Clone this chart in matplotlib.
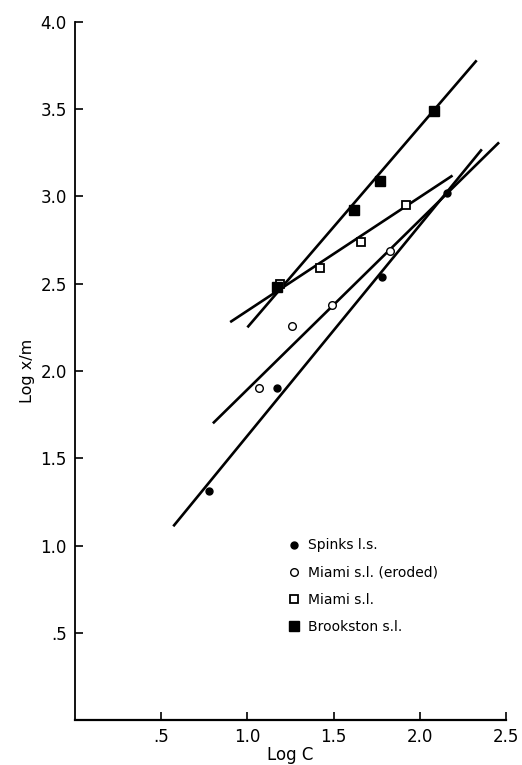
import matplotlib
matplotlib.use('Agg')
import matplotlib.pyplot as plt

# Puntos (Log C, Log x/m)
spinks_x = [0.78, 1.17, 1.78, 2.16]
spinks_y = [1.31, 1.90, 2.54, 3.02]

miami_er_x = [1.07, 1.26, 1.49, 1.83]
miami_er_y = [1.90, 2.26, 2.38, 2.69]

miami_x = [1.19, 1.42, 1.66, 1.92]
miami_y = [2.50, 2.59, 2.74, 2.95]

brook_x = [1.17, 1.62, 1.77, 2.08]
brook_y = [2.48, 2.92, 3.09, 3.49]

# Rectas ajustadas (extremos)
spinks_line_x = [0.57, 2.36]
spinks_line_y = [1.11, 3.27]
miami_er_line_x = [0.80, 2.46]
miami_er_line_y = [1.70, 3.31]
miami_line_x = [0.90, 2.19]
miami_line_y = [2.28, 3.12]
brook_line_x = [1.00, 2.33]
brook_line_y = [2.25, 3.78]

x_ticks = [0.5, 1.0, 1.5, 2.0, 2.5]
x_labels = ['.5', '1.0', '1.5', '2.0', '2.5']
y_ticks = [0.5, 1.0, 1.5, 2.0, 2.5, 3.0, 3.5, 4.0]
y_labels = ['.5', '1.0', '1.5', '2.0', '2.5', '3.0', '3.5', '4.0']

fig = plt.figure(figsize=(5.22, 7.65), dpi=100)
ax = fig.add_axes([0.1437, 0.0588, 0.8256, 0.9125])

for lx, ly in [(spinks_line_x, spinks_line_y), (miami_er_line_x, miami_er_line_y),
               (miami_line_x, miami_line_y), (brook_line_x, brook_line_y)]:
    ax.plot(lx, ly, color='black', lw=1.9, solid_capstyle='butt', zorder=2)

ax.plot(spinks_x, spinks_y, 'o', color='black', ms=5, ls='none', zorder=3, label='Spinks l.s.')
ax.plot(miami_er_x, miami_er_y, 'o', mfc='white', mec='black', mew=1.0, ms=5.5, ls='none',
        zorder=3, label='Miami s.l. (eroded)')
ax.plot(miami_x, miami_y, 's', mfc='white', mec='black', mew=1.3, ms=6, ls='none',
        zorder=3, label='Miami s.l.')
ax.plot(brook_x, brook_y, 's', color='black', ms=6.5, ls='none', zorder=3, label='Brookston s.l.')

ax.set_xlim(0, 2.5)
ax.set_ylim(0, 4.0)
ax.set_xticks(x_ticks)
ax.set_xticklabels(x_labels)
ax.set_yticks(y_ticks)
ax.set_yticklabels(y_labels)
ax.tick_params(direction='in', length=6, width=1.2, labelsize=12, pad=6)
ax.spines['top'].set_visible(False)
ax.spines['right'].set_visible(False)
ax.spines['left'].set_linewidth(1.3)
ax.spines['bottom'].set_linewidth(1.6)

ax.set_xlabel('Log C', fontsize=12, labelpad=0)
ax.set_ylabel('Log x/m', fontsize=11.5, labelpad=4)

ax.legend(loc='upper left', bbox_to_anchor=(0.478, 0.27), frameon=False, fontsize=10,
          handlelength=0.8, handletextpad=0.65, labelspacing=0.95, borderpad=0)

fig.savefig('out.png', dpi=100)
